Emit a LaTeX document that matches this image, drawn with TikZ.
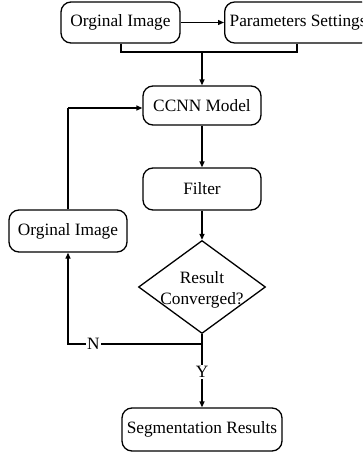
\documentclass[tikz,border=0pt]{standalone}
\usepackage{fontspec}
\setmainfont{Liberation Serif}
\usetikzlibrary{arrows.meta,shapes.geometric}
\begin{document}
\begin{tikzpicture}[x=1pt,y=-1pt,
  box/.style={draw,line width=1.3pt,rounded corners=10pt,inner sep=0pt,font=\fontsize{17.3}{20}\selectfont},
  conn/.style={line width=1.3pt},
  arr/.style={conn,-{Triangle[length=6pt,width=5pt]}},
  lbl/.style={fill=white,inner sep=1pt,font=\fontsize{17.3}{20}\selectfont}]
\useasboundingbox (0,0) rectangle (362,453);
\begin{scope}
\clip (0,0) rectangle (362,453);
\node[box,minimum width=119pt,minimum height=41pt] (img1) at (120.5,22.5) {Orginal Image};
\node[box,minimum width=146pt,minimum height=41pt,anchor=west] (par) at (224,22.5) {\hspace*{5pt}Parameters Settings\hspace*{5pt}};
\end{scope}
\node[box,minimum width=118pt,minimum height=39pt] (ccnn) at (202,105.5) {CCNN Model};
\node[box,minimum width=118pt,minimum height=42pt] (filt) at (202,189) {Filter};
\node[box,minimum width=118pt,minimum height=42pt] (img2) at (68,231) {Orginal Image};
\node[diamond,draw,line width=1.3pt,minimum width=127pt,minimum height=93pt,inner sep=0pt] (dia) at (202,287) {};
\node[align=center,font=\fontsize{17.3}{21}\selectfont] (diatxt) at (202,289.5) {Result\\Converged?};
\node[box,minimum width=160pt,minimum height=43pt] (seg) at (202,429.5) {Segmentation Results};
\coordinate (bl) at (121,52);
\coordinate (br) at (297,52);
\coordinate (bm) at (202,52);
\coordinate (lp) at (68,108);
\coordinate (nj) at (202,344);
\coordinate (nl) at (68,344);
\draw[arr] (img1) -- (par);
\draw[conn] (img1.south -| bl) -- (bl) -- (br) -- (br |- img1.south);
\draw[arr] (bm) -- (ccnn);
\draw[arr] (ccnn) -- (filt);
\draw[arr] (filt) -- (dia);
\draw[conn] (img2.north) -- (lp);
\draw[arr] (lp) -- (ccnn.west |- lp);
\draw[conn] (dia.south) -- (nj);
\draw[arr] (nj) -- (nl) node[lbl,pos=0.81] {N} -- (img2.south);
\draw[arr] (nj) -- (seg) node[lbl,pos=0.44] {Y};
\end{tikzpicture}
\end{document}
